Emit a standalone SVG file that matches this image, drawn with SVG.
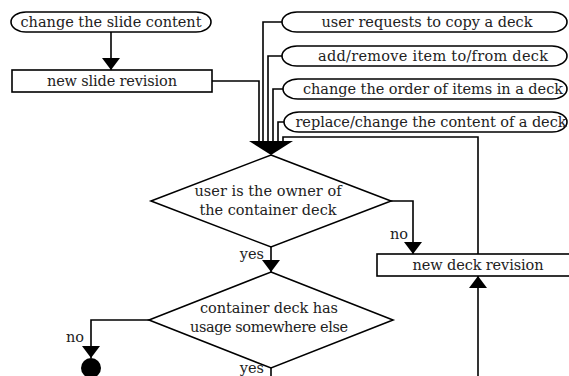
<svg xmlns="http://www.w3.org/2000/svg" width="569" height="376" viewBox="0 0 569 376">
  <defs>
    <marker id="arrow" markerUnits="userSpaceOnUse" markerWidth="14" markerHeight="20" refX="12" refY="9" orient="auto">
      <path d="M0,0 L12,9 L0,18 Z" fill="#000"/>
    </marker>
  </defs>
  <style>
    .shape { fill: #fff; stroke: #000; stroke-width: 1.6; }
    .edge { fill: none; stroke: #000; stroke-width: 1.6; }
    .edge-arrow { fill: none; stroke: #000; stroke-width: 1.6; marker-end: url(#arrow); }
    text { font-family: "DejaVu Serif", serif; font-size: 14.5px; fill: #222; }
    .c { text-anchor: middle; }
    .e { text-anchor: end; }
  </style>
  <rect width="569" height="376" fill="#fff"/>

  <!-- connectors -->
  <g id="connectors">
    <path class="edge-arrow" d="M111,32 V70"/>
    <path class="edge" d="M212,81 H259 V142"/>
    <path class="edge" d="M282,22 H263 V142"/>
    <path class="edge" d="M282,56 H268 V142"/>
    <path class="edge" d="M283,89 H273 V142"/>
    <path class="edge" d="M284,122 H278 V142"/>
    <path class="edge" d="M478,254 V137 H283 V142"/>
    <polygon points="249,141 293,141 271,155" fill="#000"/>
    <path class="edge-arrow" d="M391,201 H413 V254"/>
    <path class="edge-arrow" d="M271,247 V272"/>
    <path class="edge-arrow" d="M149,320 H91 V358"/>
    <path class="edge" d="M271,368 V376"/>
    <path class="edge-arrow" d="M478,376 V276"/>
    <text class="e" x="408" y="239">no</text>
    <text class="e" x="264" y="259">yes</text>
    <text class="e" x="84" y="342">no</text>
    <text class="e" x="264" y="373">yes</text>
  </g>

  <!-- start: slide content change -->
  <g id="start-slide">
    <path class="shape" d="M26,12 H196 A15,10 0 0 1 196,32 H26 A15,10 0 0 1 26,12 Z"/>
    <text class="c" x="111" y="27" textLength="181" lengthAdjust="spacing">change the slide content</text>
  </g>

  <g id="new-slide-revision">
    <rect class="shape" x="12" y="70" width="200" height="22"/>
    <text class="c" x="112" y="86" textLength="130" lengthAdjust="spacing">new slide revision</text>
  </g>

  <!-- deck events -->
  <g id="start-copy">
    <path class="shape" d="M297,12 H552 A15,10 0 0 1 552,32 H297 A15,10 0 0 1 297,12 Z"/>
    <text class="c" x="427" y="27" textLength="211" lengthAdjust="spacing">user requests to copy a deck</text>
  </g>
  <g id="start-add-remove">
    <path class="shape" d="M297,46 H552 A15,10 0 0 1 552,66 H297 A15,10 0 0 1 297,46 Z"/>
    <text class="c" x="433" y="61" textLength="230" lengthAdjust="spacing">add/remove item to/from deck</text>
  </g>
  <g id="start-order">
    <path class="shape" d="M298,79 H552 A15,10 0 0 1 552,99 H298 A15,10 0 0 1 298,79 Z"/>
    <text class="c" x="433" y="94" textLength="260" lengthAdjust="spacing">change the order of items in a deck</text>
  </g>
  <g id="start-replace">
    <path class="shape" d="M299,112 H552 A15,10 0 0 1 552,132 H299 A15,10 0 0 1 299,112 Z"/>
    <text class="c" x="431" y="127" textLength="271" lengthAdjust="spacing">replace/change the content of a deck</text>
  </g>

  <!-- decisions -->
  <g id="decision-owner">
    <polygon class="shape" points="271,155 391,201 271,247 151,201"/>
    <text class="c" x="268" y="196" textLength="147" lengthAdjust="spacing">user is the owner of</text>
    <text class="c" x="268" y="215" textLength="137" lengthAdjust="spacing">the container deck</text>
  </g>
  <g id="decision-usage">
    <polygon class="shape" points="271,272 393,320 271,368 149,320"/>
    <text class="c" x="269" y="313" textLength="138" lengthAdjust="spacing">container deck has</text>
    <text class="c" x="269" y="332" textLength="158" lengthAdjust="spacing">usage somewhere else</text>
  </g>

  <g id="new-deck-revision">
    <rect class="shape" x="377" y="254" width="200" height="22"/>
    <text class="c" x="478" y="270" textLength="131" lengthAdjust="spacing">new deck revision</text>
  </g>

  <g id="end">
    <circle cx="91" cy="368" r="10" fill="#000"/>
  </g>
</svg>
